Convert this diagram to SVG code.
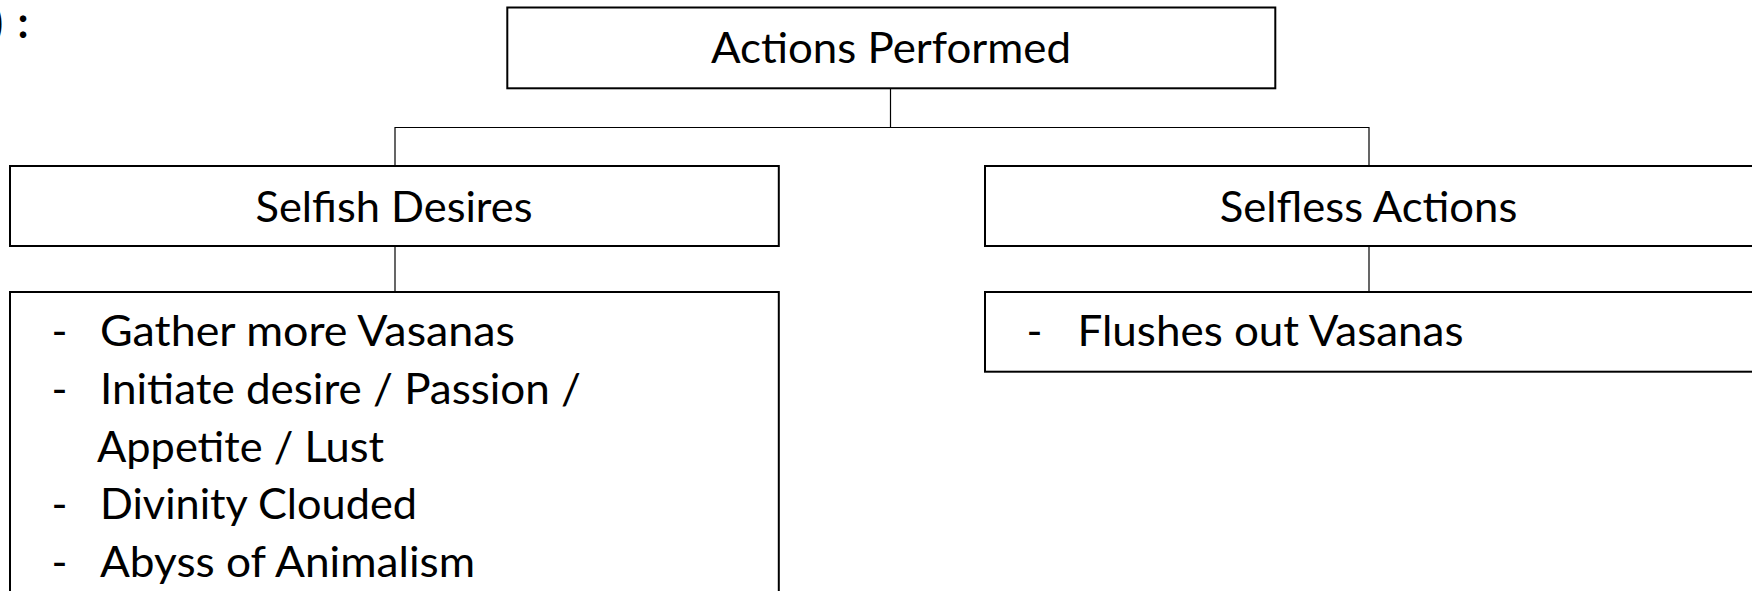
<svg xmlns="http://www.w3.org/2000/svg" width="1752" height="591" viewBox="0 0 1752 591">
<style>
.box{fill:#ffffff;stroke:#000000;stroke-width:2}
.conn{fill:none;stroke:#000000;stroke-width:1.2}
.t{font-family:Lato,"Open Sans","Liberation Sans",sans-serif;font-size:43px;fill:#000000}
.c{text-anchor:middle}
</style>
<rect width="1752" height="591" fill="#ffffff"/>
<g id="fragment">
<text class="t" x="3" y="38" text-anchor="end" font-weight="bold">)</text>
<text class="t c" x="23" y="38" font-weight="bold">:</text>
</g>
<g id="connectors">
<path class="conn" d="M890.5 88.3 V127.5 M395 166 V127.5 H1369 V166"/>
<path class="conn" d="M395 246 V292"/>
<path class="conn" d="M1369 246 V292"/>
</g>
<g id="actions-performed">
<rect class="box" x="507.3" y="7.5" width="768" height="80.8"/>
<text class="t" x="711" y="63" textLength="360" lengthAdjust="spacingAndGlyphs">Actions Performed</text>
</g>
<g id="selfish-desires">
<rect class="box" x="10" y="166" width="768.8" height="80"/>
<text class="t" x="255.5" y="222" textLength="277" lengthAdjust="spacingAndGlyphs">Selfish Desires</text>
</g>
<g id="selfless-actions">
<rect class="box" x="985" y="166" width="800" height="80"/>
<text class="t" x="1219.8" y="222" textLength="297.5" lengthAdjust="spacingAndGlyphs">Selfless Actions</text>
</g>
<g id="selfish-list">
<rect class="box" x="10" y="292" width="768.8" height="320"/>
<text class="t c" x="59.5" y="346">-</text>
<text class="t" x="100" y="346" textLength="415" lengthAdjust="spacingAndGlyphs">Gather more Vasanas</text>
<text class="t c" x="59.5" y="403.75">-</text>
<text class="t" x="100" y="403.75" textLength="481" lengthAdjust="spacingAndGlyphs">Initiate desire / Passion /</text>
<text class="t" x="97" y="461.5" textLength="287" lengthAdjust="spacingAndGlyphs">Appetite / Lust</text>
<text class="t c" x="59.5" y="519.25">-</text>
<text class="t" x="100" y="519.25" textLength="317" lengthAdjust="spacingAndGlyphs">Divinity Clouded</text>
<text class="t c" x="59.5" y="577">-</text>
<text class="t" x="100" y="577" textLength="375" lengthAdjust="spacingAndGlyphs">Abyss of Animalism</text>
</g>
<g id="selfless-list">
<rect class="box" x="985" y="292" width="800" height="79.7"/>
<text class="t c" x="1034.5" y="346">-</text>
<text class="t" x="1077.5" y="346" textLength="386" lengthAdjust="spacingAndGlyphs">Flushes out Vasanas</text>
</g>
</svg>
